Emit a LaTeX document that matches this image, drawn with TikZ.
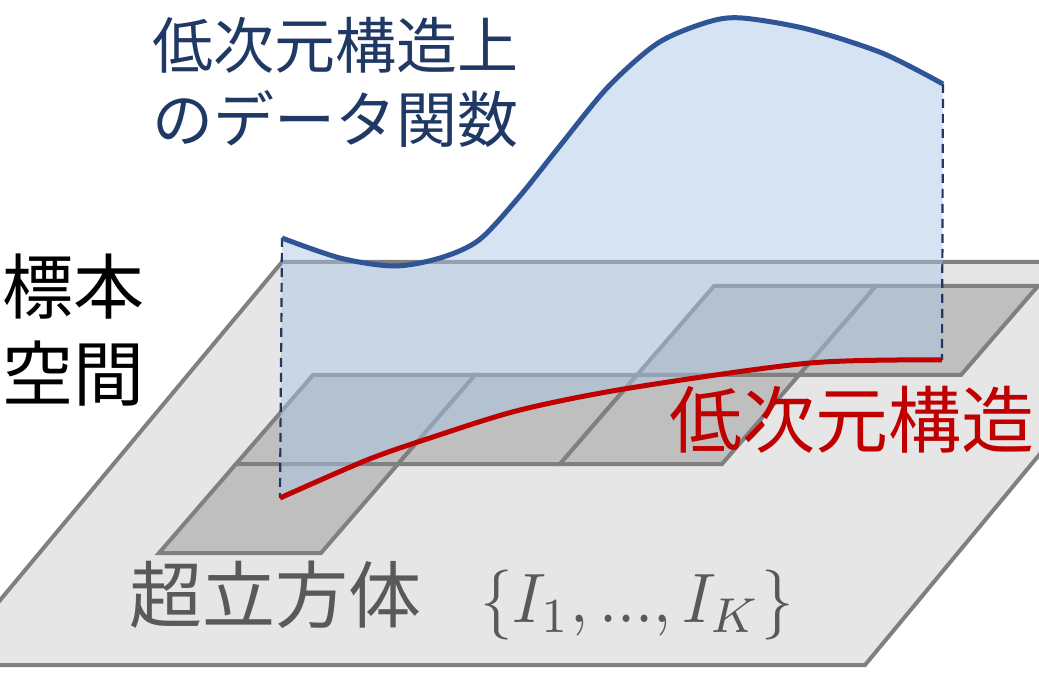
\documentclass[tikz,border=0pt]{standalone}
\usepackage{fontspec}
\newfontfamily\jp{Noto Sans CJK JP}
\definecolor{planefill}{HTML}{E6E6E6}
\definecolor{edgegray}{HTML}{808080}
\definecolor{cellfill}{HTML}{BFBFBF}
\definecolor{sheet}{RGB}{168,197,230}
\definecolor{navy}{HTML}{1F3864}
\definecolor{curveblue}{HTML}{2F5597}
\definecolor{dred}{HTML}{C00000}
\definecolor{txtgray}{HTML}{595959}
\begin{document}
\begin{tikzpicture}[x=1pt,y=-1pt,
  plane/.style={fill=planefill,draw=edgegray,line width=4pt},
  cellbox/.style={fill=cellfill,draw=edgegray,line width=4pt},
  sheetfill/.style={fill=sheet,fill opacity=0.48,draw=none},
  guide/.style={draw=navy,line width=2.2pt,dash pattern=on 9pt off 6pt},
  lowcurve/.style={draw=dred,line width=5pt},
  funccurve/.style={draw=curveblue,line width=5pt},
  lbl/.style={inner sep=0pt,anchor=base west}]
\useasboundingbox (0,0) rectangle (1039,692);
\clip (0,0) rectangle (1039,692);
% sample space plane
\draw[plane] (-54,665) -- (865,665) -- (1199,262) -- (282,262) -- cycle;
% hypercubes
\draw[cellbox] (714,286) -- (876,286) -- (799,375) -- (637,375) -- cycle;
\draw[cellbox] (876,286) -- (1038,286) -- (961,375) -- (799,375) -- cycle;
\draw[cellbox] (313,375) -- (475,375) -- (398,464) -- (236,464) -- cycle;
\draw[cellbox] (475,375) -- (637,375) -- (560,464) -- (398,464) -- cycle;
\draw[cellbox] (637,375) -- (799,375) -- (722,464) -- (560,464) -- cycle;
\draw[cellbox] (236,464) -- (398,464) -- (321,553) -- (159,553) -- cycle;
% end points
\coordinate (fa) at (282,238);
\coordinate (fb) at (943,84);
\coordinate (la) at (280,498);
\coordinate (lb) at (942,360);
% translucent sheet
\fill[sheetfill] plot[smooth] coordinates {(282,238) (340,258) (394,266) (440,258) (479,240) (519,197) (559,147) (608,87) (658,43) (708,22) (742,18) (807,29) (882,53) (943,84)}
  -- plot[smooth] coordinates {(942,360) (810,363) (630,388) (520,410) (433,437) (367,460) (280,498)} -- cycle;
% guides
\draw[guide] (fa) -- (la);
\draw[guide] (fb) -- (lb);
% low-dimensional structure
\draw[lowcurve] plot[smooth] coordinates {(280,498) (367,460) (433,437) (520,410) (630,388) (810,363) (942,360)};
% data function
\draw[funccurve] plot[smooth] coordinates {(282,238) (340,258) (394,266) (440,258) (479,240) (519,197) (559,147) (608,87) (658,43) (708,22) (742,18) (807,29) (882,53) (943,84)};
% labels
\node[lbl,text=navy,font=\jp\fontsize{61}{70}\selectfont] (t1) at (152,69) {低次元構造上};
\node[lbl,text=navy,font=\jp\fontsize{61}{70}\selectfont] (t2) at (152,143) {のデータ関数};
\node[lbl,text=black,font=\jp\fontsize{71}{80}\selectfont] (s1) at (2,314) {標本};
\node[lbl,text=black,font=\jp\fontsize{71}{80}\selectfont] (s2) at (2,401) {空間};
\node[lbl,text=dred,font=\jp\fontsize{73}{80}\selectfont] (ld) at (669,447) {低次元構造};
\node[lbl,text=txtgray,font=\jp\fontsize{73}{80}\selectfont] (hc) at (129,622) {超立方体};
\node[lbl,text=txtgray,font=\fontsize{10}{12}\selectfont] (ik) at (480,622) {\scalebox{6.5}[7]{$\{I_1,{.}{.}{.},I_K\}$}};
\end{tikzpicture}
\end{document}
